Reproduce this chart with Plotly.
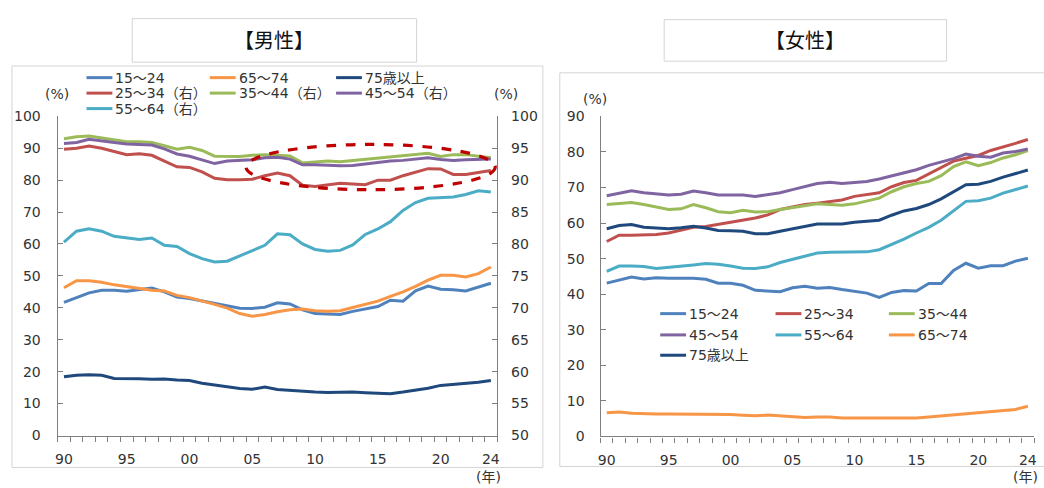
import plotly.graph_objects as go

# ---- data -------------------------------------------------------------
years = list(range(1990, 2025))
tick_years = [1990, 1995, 2000, 2005, 2010, 2015, 2020, 2024]
tick_text = ["90", "95", "00", "05", "10", "15", "20", "24"]

# men, left axis (%)
m_15_24 = [41.7, 43.1, 44.7, 45.5, 45.5, 45.2, 45.8, 46.2, 45.0, 43.4,
           42.9, 42.2, 41.4, 40.7, 39.9, 39.8, 40.2, 41.6, 41.2, 39.4,
           38.2, 38.1, 37.9, 38.9, 39.7, 40.4, 42.4, 42.1, 45.3, 46.8,
           45.8, 45.7, 45.3, 46.5, 47.7]
m_65_74 = [46.3, 48.5, 48.5, 48.0, 47.2, 46.7, 46.2, 45.5, 45.3, 43.9,
           43.2, 42.2, 41.1, 39.9, 38.2, 37.4, 37.9, 38.8, 39.4, 39.6,
           39.1, 38.9, 39.1, 40.1, 41.1, 42.1, 43.6, 45.0, 46.7, 48.7,
           50.2, 50.2, 49.7, 50.7, 52.8]
m_75_over = [18.4, 18.9, 19.0, 18.9, 17.9, 17.9, 17.8, 17.6, 17.7, 17.4,
             17.2, 16.4, 15.9, 15.2, 14.7, 14.5, 15.2, 14.4, 14.1, 13.9,
             13.6, 13.5, 13.6, 13.6, 13.4, 13.3, 13.1, 13.6, 14.1, 14.8,
             15.7, 16.0, 16.2, 16.7, 17.2]
# men, right axis (%)
m_25_34 = [94.85, 95.0, 95.35, 95.0, 94.5, 94.0, 94.15, 93.9, 93.0, 92.1,
           92.0, 91.3, 90.3, 90.05, 90.05, 90.15, 90.7, 91.1, 90.7, 89.2,
           89.0, 89.3, 89.5, 89.4, 89.3, 90.0, 90.0, 90.7, 91.2, 91.8,
           91.75, 90.9, 90.9, 91.2, 91.5]
m_35_44 = [96.5, 96.8, 96.9, 96.6, 96.2, 96.0, 96.0, 95.9, 95.4, 94.85,
           95.15, 94.65, 93.75, 93.75, 93.7, 93.9, 94.0, 93.9, 93.8, 92.7,
           92.8, 93.0, 92.9, 93.1, 93.2, 93.5, 93.6, 93.9, 94.1, 94.2,
           93.7, 94.0, 94.0, 93.75, 93.5]
m_45_54 = [95.75, 95.9, 96.4, 96.2, 95.9, 95.65, 95.6, 95.5, 94.9, 94.1,
           93.75, 93.2, 92.6, 93.0, 93.05, 93.2, 93.5, 93.6, 93.3, 92.4,
           92.4, 92.3, 92.25, 92.3, 92.55, 92.7, 93.0, 93.1, 93.3, 93.5,
           93.25, 93.1, 93.2, 93.2, 93.3]
m_55_64 = [80.3, 82.0, 82.4, 82.0, 81.2, 80.9, 80.7, 80.95, 79.8, 79.6,
           78.5, 77.7, 77.2, 77.3, 78.1, 78.9, 79.8, 81.6, 81.45, 80.0,
           79.15, 78.85, 79.0, 79.85, 81.5, 82.35, 83.5, 85.25, 86.5, 87.15,
           87.25, 87.35, 87.75, 88.35, 88.15]

# women (%)
w_15_24 = [43.1, 44.0, 44.8, 44.3, 44.6, 44.5, 44.5, 44.5, 44.2, 43.1,
           43.1, 42.5, 41.1, 40.9, 40.7, 41.8, 42.2, 41.7, 41.9, 41.3,
           40.7, 40.3, 39.1, 40.5, 41.0, 40.9, 43.0, 43.0, 46.7, 48.7,
           47.3, 48.0, 48.0, 49.3, 50.1]
w_25_34 = [54.8, 56.6, 56.6, 56.6, 56.8, 57.2, 57.9, 58.8, 59.0, 59.6,
           60.0, 60.8, 61.4, 62.3, 63.8, 64.5, 65.2, 65.6, 66.1, 66.5,
           67.5, 67.9, 68.5, 70.2, 71.4, 72.0, 73.8, 75.6, 77.4, 78.2,
           79.0, 80.4, 81.3, 82.4, 83.5]
w_35_44 = [65.2, 65.5, 65.8, 65.2, 64.6, 63.8, 64.0, 65.2, 64.3, 63.2,
           62.9, 63.6, 63.1, 63.2, 63.8, 64.3, 64.8, 65.4, 65.2, 65.0,
           65.4, 66.1, 67.0, 68.8, 70.2, 71.1, 71.7, 73.3, 75.9, 77.2,
           76.1, 77.0, 78.3, 79.2, 80.4]
w_45_54 = [67.7, 68.3, 69.1, 68.5, 68.2, 67.9, 68.1, 69.0, 68.5, 67.9,
           67.9, 67.9, 67.5, 67.9, 68.5, 69.4, 70.3, 71.1, 71.5, 71.1,
           71.4, 71.7, 72.4, 73.3, 74.0, 75.0, 76.2, 77.2, 78.1, 79.4,
           78.8, 78.5, 79.7, 80.1, 80.8]
w_55_64 = [46.4, 47.9, 47.9, 47.8, 47.2, 47.5, 47.7, 48.2, 48.6, 48.4,
           47.9, 47.3, 47.2, 47.7, 48.9, 49.8, 50.6, 51.6, 51.8, 51.8,
           52.0, 51.9, 52.5, 53.9, 55.5, 57.2, 58.8, 60.8, 63.4, 66.1,
           66.3, 67.0, 68.4, 69.5, 70.4]
w_65_74 = [6.7, 6.9, 6.5, 6.3, 6.3, 6.3, 6.3, 6.1, 6.3, 6.3,
           6.2, 6.0, 5.8, 6.0, 5.8, 5.4, 5.3, 5.5, 5.5, 5.2,
           5.2, 5.2, 5.3, 5.3, 5.2, 5.2, 5.5, 5.8, 6.0, 6.4,
           6.6, 6.8, 7.2, 7.6, 8.5]
w_75_over = [58.4, 59.3, 59.6, 58.8, 58.6, 58.4, 58.7, 59.1, 58.6, 57.9,
             57.8, 57.7, 57.0, 57.0, 57.7, 58.4, 59.2, 59.7, 59.7, 59.7,
             60.2, 60.4, 60.8, 62.2, 63.4, 64.1, 65.2, 66.8, 68.8, 70.8,
             70.9, 71.7, 72.9, 74.0, 74.9]

# ---- styling ------------------------------------------------------------
W, H = 1044, 488
FONT = "DejaVu Sans, Noto Sans CJK JP, sans-serif"
JP_FONT = "Noto Sans CJK JP, DejaVu Sans, sans-serif"
TXT = "#333333"
AXIS = "#7f7f7f"
FRAME = "#d4d4d4"
C = {
    "15_24": "#4F81BD", "25_34": "#C0504D", "35_44": "#9BBB59",
    "45_54": "#8064A2", "55_64": "#4BACC6", "65_74": "#F79646",
    "75": "#1F497D",
}
LW = 3


def px(x):
    return x / W


def py(y):
    return 1 - y / H


fig = go.Figure()

men_left = [("15～24", m_15_24, C["15_24"]),
            ("65～74", m_65_74, C["65_74"]),
            ("75歳以上", m_75_over, C["75"])]
men_right = [("25～34（右）", m_25_34, C["25_34"]),
             ("35～44（右）", m_35_44, C["35_44"]),
             ("45～54（右）", m_45_54, C["45_54"]),
             ("55～64（右）", m_55_64, C["55_64"])]
women = [("15～24", w_15_24, C["15_24"]),
         ("25～34", w_25_34, C["25_34"]),
         ("35～44", w_35_44, C["35_44"]),
         ("45～54", w_45_54, C["45_54"]),
         ("55～64", w_55_64, C["55_64"]),
         ("65～74", w_65_74, C["65_74"]),
         ("75歳以上", w_75_over, C["75"])]

for name, vals, col in men_right:
    fig.add_trace(go.Scatter(x=years, y=vals, name=name, mode="lines",
                             line=dict(color=col, width=LW),
                             xaxis="x", yaxis="y2", showlegend=False))
for name, vals, col in men_left:
    fig.add_trace(go.Scatter(x=years, y=vals, name=name, mode="lines",
                             line=dict(color=col, width=LW),
                             xaxis="x", yaxis="y", showlegend=False))
for name, vals, col in women:
    fig.add_trace(go.Scatter(x=years, y=vals, name=name, mode="lines",
                             line=dict(color=col, width=LW),
                             xaxis="x2", yaxis="y3", showlegend=False))

tickfont = dict(family=FONT, size=14, color=TXT)


def xaxis_cfg(domain, anchor):
    return dict(domain=domain, anchor=anchor, range=[1989.5, 2024.5],
                tickmode="array", tickvals=tick_years, ticktext=tick_text,
                ticks="outside", ticklen=5, tickcolor="rgba(0,0,0,0)",
                ticklabelstandoff=6,
                minor=dict(tickmode="linear", tick0=1989.5, dtick=1,
                           ticks="outside", ticklen=5, tickwidth=1.3,
                           tickcolor=AXIS, showgrid=False),
                showline=True, linecolor=AXIS, linewidth=1.3,
                showgrid=False, zeroline=False, tickfont=tickfont,
                fixedrange=True)


def yaxis_cfg(domain, anchor, rng, dtick, side="left", standoff=13):
    return dict(domain=domain, anchor=anchor, range=rng, dtick=dtick,
                tick0=rng[0], side=side, ticks="inside", ticklen=5,
                tickwidth=1.3, tickcolor=AXIS, ticklabelstandoff=standoff,
                showline=True, linecolor=AXIS, linewidth=1.3,
                showgrid=False, zeroline=False, tickfont=tickfont,
                fixedrange=True)


men_x = [px(55), px(497)]
men_y = [py(442), py(112)]
wom_x = [px(601), px(1037)]
wom_y = [py(443), py(112)]

fig.update_layout(
    width=W, height=H,
    margin=dict(l=0, r=0, t=0, b=0),
    paper_bgcolor="white", plot_bgcolor="white",
    font=dict(family=FONT, size=14, color=TXT),
    xaxis=xaxis_cfg(men_x, "y"),
    yaxis=yaxis_cfg(men_y, "x", [0, 100], 10),
    yaxis2=dict(yaxis_cfg(men_y, "x", [50, 100], 5, side="right",
                          standoff=10),
                overlaying="y"),
    xaxis2=xaxis_cfg(wom_x, "y3"),
    yaxis3=yaxis_cfg(wom_y, "x2", [0, 90], 10, standoff=12),
    showlegend=False,
)

shapes = []
annotations = []

# panel frames and title boxes
shapes.append(dict(type="rect", xref="paper", yref="paper",
                   x0=px(9), x1=px(543), y0=py(475), y1=py(60),
                   line=dict(color=FRAME, width=1), layer="below"))
shapes.append(dict(type="rect", xref="paper", yref="paper",
                   x0=px(560), x1=px(1050), y0=py(474), y1=py(67),
                   line=dict(color=FRAME, width=1), layer="below"))
shapes.append(dict(type="rect", xref="paper", yref="paper",
                   x0=px(130), x1=px(416), y0=py(56), y1=py(11),
                   line=dict(color=FRAME, width=1)))
shapes.append(dict(type="rect", xref="paper", yref="paper",
                   x0=px(665), x1=px(949), y0=py(55), y1=py(12),
                   line=dict(color=FRAME, width=1)))
annotations.append(dict(text="【男性】", xref="paper", yref="paper",
                        x=px(273), y=py(33), xanchor="center",
                        yanchor="middle", showarrow=False,
                        font=dict(family=JP_FONT, size=20, color="#111111")))
annotations.append(dict(text="【女性】", xref="paper", yref="paper",
                        x=px(807), y=py(33), xanchor="center",
                        yanchor="middle", showarrow=False,
                        font=dict(family=JP_FONT, size=20, color="#111111")))

# highlight ellipse on the men's panel (left-axis units)
shapes.append(dict(type="circle", xref="x", yref="y",
                   x0=2004.5, x1=2024.35, y0=77.0, y1=91.2,
                   line=dict(color="#C00000", width=3.2, dash="dash")))


def legend_item(x, y, label, color):
    shapes.append(dict(type="line", xref="paper", yref="paper",
                       x0=px(x), x1=px(x + 26), y0=py(y), y1=py(y),
                       line=dict(color=color, width=LW)))
    annotations.append(dict(text=label, xref="paper", yref="paper",
                            x=px(x + 27), y=py(y), xanchor="left",
                            yanchor="middle", showarrow=False,
                            font=dict(family=FONT, size=14, color=TXT)))


# men legend: 3 columns, row-major
men_legend = men_left + men_right
cols_m = [84, 208, 335]
rows_m = [72, 88, 104]
for k, (name, _, col) in enumerate(men_legend):
    legend_item(cols_m[k % 3], rows_m[k // 3], name, col)

cols_w = [661, 777, 891]
rows_w = [316, 338, 359]
for k, (name, _, col) in enumerate(women):
    legend_item(cols_w[k % 3], rows_w[k // 3], name, col)


def label(x, y, text, anchor="center"):
    annotations.append(dict(text=text, xref="paper", yref="paper",
                            x=px(x), y=py(y), xanchor=anchor,
                            yanchor="middle", showarrow=False,
                            font=dict(family=FONT, size=14, color=TXT)))


label(54, 89, "(%)")
label(506, 89, "(%)")
label(595, 94, "(%)")
label(488, 485, "(年)")
label(1028, 485, "(年)")

fig.update_layout(shapes=shapes, annotations=annotations)
fig.write_html("out.html")
